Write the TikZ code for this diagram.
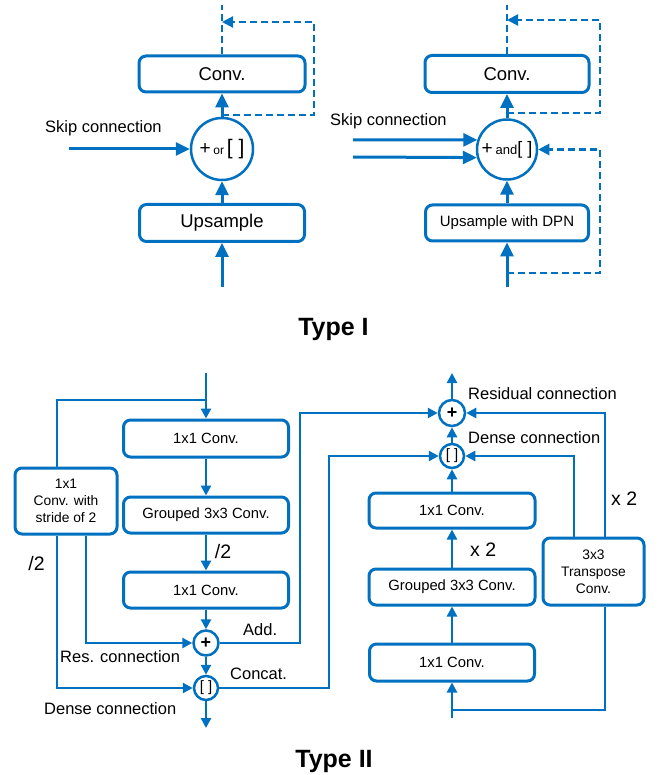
\documentclass[tikz,border=0pt]{standalone}
\usepackage{fontspec}
\setmainfont{Liberation Sans}
\usetikzlibrary{arrows.meta}
\definecolor{blu}{RGB}{0, 112, 192}

\tikzset{
    blk/.style={draw=blu, line width=3pt, rounded corners=7pt, inner sep=0pt, align=center},
    opc/.style={draw=blu, circle, line width=2.5pt, inner sep=0pt},
    big/.style={draw=blu, line width=3pt, -{Triangle[length=14pt,width=13pt]}},
    sml/.style={draw=blu, line width=2.5pt, -{Triangle[length=10pt,width=10pt]}},
    ln/.style={draw=blu, line width=2.5pt},
    dsh/.style={draw=blu, line width=2.2pt, dash pattern=on 7pt off 4pt},
    lbl/.style={inner sep=0pt, anchor=base west},
    fbig/.style={font=\fontsize{18.5}{22}\selectfont},
    fmid/.style={font=\fontsize{15}{17}\selectfont},
    fsml/.style={font=\fontsize{14.8}{17}\selectfont},
    fthin/.style={font=\fontsize{13.8}{17}\selectfont},
    flbl/.style={font=\fontsize{16.5}{20}\selectfont},
    fnum/.style={font=\fontsize{19.5}{22}\selectfont},
    ftitle/.style={font=\fontsize{25}{30}\selectfont\bfseries}
}

\begin{document}
\begin{tikzpicture}[x=1pt, y=-1pt]
    \useasboundingbox (0,0) rectangle (661,775);

    % Type I, left
    \node[blk, fbig, minimum width=166pt, minimum height=36pt] (convA) at (222,74) {Conv.};
    \node[opc, minimum size=62pt] (sumA) at (222,149) {{\fontsize{19}{19}\selectfont+}\ {\fontsize{12}{12}\selectfont or}\ {\fontsize{21}{21}\selectfont[ ]}};
    \node[blk, fbig, minimum width=165pt, minimum height=37pt] (upA) at (222,223) {Upsample};
    \coordinate (inA) at (222,287);
    \coordinate (skipA) at (69,149);
    \coordinate (outA) at (222,5);
    \coordinate (brA) at (222,115);
    \coordinate (tapA) at (222,22);
    \draw[big] (inA) -- (upA);
    \draw[big] (upA) -- (sumA);
    \draw[big] (sumA) -- (convA);
    \draw[big] (skipA) -- (sumA);
    \draw[dsh] (convA) -- (outA);
    \draw[dsh, -{Triangle[length=11pt,width=11pt]}] (brA) -- (314,115) -- (314,22) -- (tapA);
    \node[lbl, flbl] (skipLblA) at (45,133) {Skip connection};

    % Type I, right
    \node[blk, fbig, minimum width=164pt, minimum height=37pt] (convB) at (507,74) {Conv.};
    \node[opc, minimum size=60pt] (sumB) at (507,149.5) {{\fontsize{19}{19}\selectfont+}\ {\fontsize{13}{13}\selectfont and}{\fontsize{18}{18}\selectfont[ ]}};
    \node[blk, fmid, minimum width=163pt, minimum height=36pt] (upB) at (507,223) {Upsample with DPN};
    \coordinate (inB) at (507,287);
    \coordinate (skipB1) at (353,140);
    \coordinate (skipB2) at (353,157);
    \coordinate (outB) at (507,5);
    \coordinate (brB) at (507,113);
    \coordinate (tapB) at (507,20);
    \coordinate (brB2) at (507,273);
    \draw[big] (inB) -- (upB);
    \draw[big] (upB) -- (sumB);
    \draw[big] (sumB) -- (convB);
    \draw[big] (skipB1) -- (sumB.162);
    \draw[big] (skipB2) -- (sumB.195);
    \draw[dsh] (convB) -- (outB);
    \draw[dsh, -{Triangle[length=11pt,width=11pt]}] (brB) -- (600,113) -- (600,20) -- (tapB);
    \draw[dsh, -{Triangle[length=11pt,width=11pt]}] (brB2) -- (600,273) -- (600,149.5) -- (sumB);
    \node[lbl, flbl] (skipLblB) at (330,126) {Skip connection};

    \node[inner sep=0pt, anchor=base, ftitle] (typeA) at (333.5,335) {Type I};

    % Type II, left
    \node[blk, fsml, minimum width=165pt, minimum height=37pt] (c1) at (206,438.5) {1x1 Conv.};
    \node[blk, fsml, minimum width=165pt, minimum height=36pt] (c2) at (206,515) {Grouped 3x3 Conv.};
    \node[blk, fsml, minimum width=165pt, minimum height=36pt] (c3) at (206,590) {1x1 Conv.};
    \node[blk, fthin, minimum width=102pt, minimum height=66pt] (sideC) at (66,501) {1x1\\Conv. with\\stride of 2};
    \node[opc, minimum size=25pt, font=\fontsize{18}{18}\selectfont\bfseries] (addC) at (206,643) {+};
    \node[opc, minimum size=24pt, font=\fontsize{15}{15}\selectfont] (catC) at (206,688) {[ ]};
    \coordinate (inC) at (206,373);
    \coordinate (brC) at (206,400);
    \coordinate (outC) at (206,728);
    \draw[sml] (inC) -- (c1);
    \draw[ln] (brC) -| ([xshift=-9pt]sideC.north);
    \draw[sml] (c1) -- (c2);
    \draw[sml] (c2) -- (c3);
    \draw[sml] (c3) -- (addC);
    \draw[sml] (addC) -- (catC);
    \draw[sml] (catC) -- (outC);
    \draw[sml] ([xshift=20pt]sideC.south) |- (addC);
    \draw[sml] ([xshift=-9pt]sideC.south) |- (catC);
    \node[inner sep=0pt, anchor=base, fnum] (halfL) at (36.5,570) {/2};
    \node[inner sep=0pt, anchor=base, fnum] (halfM) at (223,558) {/2};
    \node[lbl, flbl] (addLbl) at (243,635) {Add.};
    \node[lbl, flbl] (resLbl) at (60,662) {Res. connection};
    \node[lbl, flbl] (catLbl) at (230,679) {Concat.};
    \node[lbl, flbl] (denseLblL) at (44,714) {Dense connection};

    % Type II, right
    \node[opc, minimum size=26pt, font=\fontsize{18}{18}\selectfont\bfseries] (plusR) at (452,413) {+};
    \node[opc, minimum size=24pt, font=\fontsize{15}{15}\selectfont] (catR) at (452,456) {[ ]};
    \node[blk, fsml, minimum width=166pt, minimum height=35pt] (d1) at (452,510.5) {1x1 Conv.};
    \node[blk, fsml, minimum width=166pt, minimum height=36pt] (d2) at (452,587) {Grouped 3x3 Conv.};
    \node[blk, fsml, minimum width=165pt, minimum height=37pt] (d3) at (452,662.5) {1x1 Conv.};
    \node[blk, fthin, minimum width=101pt, minimum height=67pt] (tr) at (593.5,571.5) {3x3\\Transpose\\Conv.};
    \coordinate (inR) at (452,718);
    \coordinate (tapR) at (452,710);
    \coordinate (outR) at (452,373);
    \draw[sml] (inR) -- (d3);
    \draw[sml] (d3) -- (d2);
    \draw[sml] (d2) -- (d1);
    \draw[sml] (d1) -- (catR);
    \draw[sml] (catR) -- (plusR);
    \draw[sml] (plusR) -- (outR);
    \draw[ln] (tapR) -| ([xshift=11.5pt]tr.south);
    \draw[sml] ([xshift=11.5pt]tr.north) |- (plusR);
    \draw[sml] ([xshift=-19.5pt]tr.north) |- (catR);
    \draw[sml] (addC) -- (300,643) |- (plusR);
    \draw[sml] (catC) -- (329,688) |- (catR);
    \node[lbl, flbl] (resLblR) at (468,399) {Residual connection};
    \node[lbl, flbl] (denseLblR) at (468,443) {Dense connection};
    \node[lbl, fnum] (twiceM) at (470,556) {x 2};
    \node[lbl, fnum] (twiceR) at (611,505) {x 2};

    \node[inner sep=0pt, anchor=base, ftitle] (typeB) at (334,767) {Type II};
\end{tikzpicture}
\end{document}
